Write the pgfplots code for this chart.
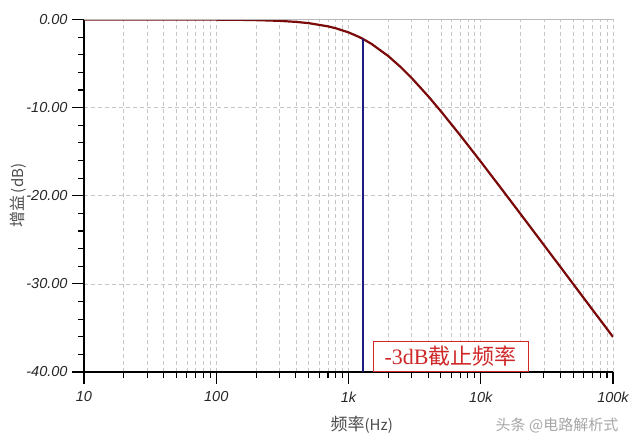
\documentclass[border=0pt]{standalone}
\usepackage{pgfplots}
\pgfplotsset{compat=1.18}
\usepackage{fontspec}
\setmainfont{Liberation Sans}
\newfontfamily\cjk{Noto Sans CJK SC}
\newfontfamily\serif{Liberation Serif}
\definecolor{curve}{HTML}{7A0A0A}
\definecolor{vline}{HTML}{1C1C80}
\definecolor{anno}{HTML}{D02828}
\begin{document}
\begin{tikzpicture}
\path[use as bounding box] (0pt,0pt) rectangle (640pt,446pt);
\begin{axis}[
  at={(84pt,74pt)}, anchor=south west,
  width=529pt, height=352.5pt, scale only axis,
  xmode=log, xmin=10, xmax=100000, ymin=-40, ymax=0,
  axis x line*=bottom, axis y line*=left,
  axis line style={black, line width=1.2pt},
  xtick align=outside, ytick align=outside,
  major tick length=12pt, minor tick length=6pt,
  every tick/.style={black, line width=1.1pt},
  xtick={10,100,1000,10000,100000},
  xticklabels={10,100,1k,10k,100k},
  ytick={-40,-30,-20,-10,0},
  yticklabels={-40.00,-30.00,-20.00,-10.00,0.00},
  minor y tick num=4,
  xmajorgrids=true, xminorgrids=true, ymajorgrids=true,
  major grid style={gray!45, dash pattern=on 4pt off 3pt, line width=0.7pt},
  minor grid style={gray!45, dash pattern=on 4pt off 3pt, line width=0.7pt},
  ticklabel style={font=\fontsize{14.5}{16}\selectfont\itshape, text=black!85},
  xticklabel style={yshift=-4pt},
  yticklabel style={xshift=-1pt},
  xlabel={\cjk 频率\fontsize{15}{16}\selectfont(Hz)},
  xlabel style={font=\fontsize{17}{18}\selectfont, text=black!70, at={(axis description cs:0.525,0)}, anchor=center, yshift=-53pt},
  ylabel={\cjk 增益\,\fontsize{15}{16}\selectfont(dB)},
  ylabel style={font=\fontsize{16}{18}\selectfont, text=black!70, at={(axis description cs:-0.125,0.5)}, anchor=center},
  clip=true,
]
\addplot[curve, line width=2.2pt] coordinates {
(10,0) (20,-0.001) (50,-0.004) (100,-0.017) (150,-0.039) (200,-0.069)
(300,-0.154) (400,-0.270) (500,-0.414) (700,-0.779) (800,-0.991)
(1000,-1.463) (1200,-1.977) (1294,-2.229) (1500,-2.790) (2000,-4.154)
(2500,-5.445) (3000,-6.632) (4000,-8.698) (5000,-10.420) (7000,-13.144)
(10000,-16.134) (15000,-19.597) (20000,-22.075) (30000,-25.581)
(50000,-30.011) (70000,-32.931) (100000,-36.028)
};
\addplot[vline, line width=1.8pt] coordinates {(1294,-40) (1294,-2.229)};
\draw[gray!55, line width=0.8pt] (rel axis cs:0,1) -- (rel axis cs:1,1);
\node[anchor=south west, draw=anno, fill=white, line width=0.9pt,
  minimum width=155pt, minimum height=30pt, inner sep=2pt, text=anno]
  at (axis cs:1524,-40) {\fontsize{22}{24}\selectfont\serif -3dB\cjk 截止频率};
\end{axis}
\node[text=gray!70, anchor=center] at (557pt,21pt) {\fontsize{15}{16}\selectfont\cjk 头条 @电路解析式};
\end{tikzpicture}
\end{document}
